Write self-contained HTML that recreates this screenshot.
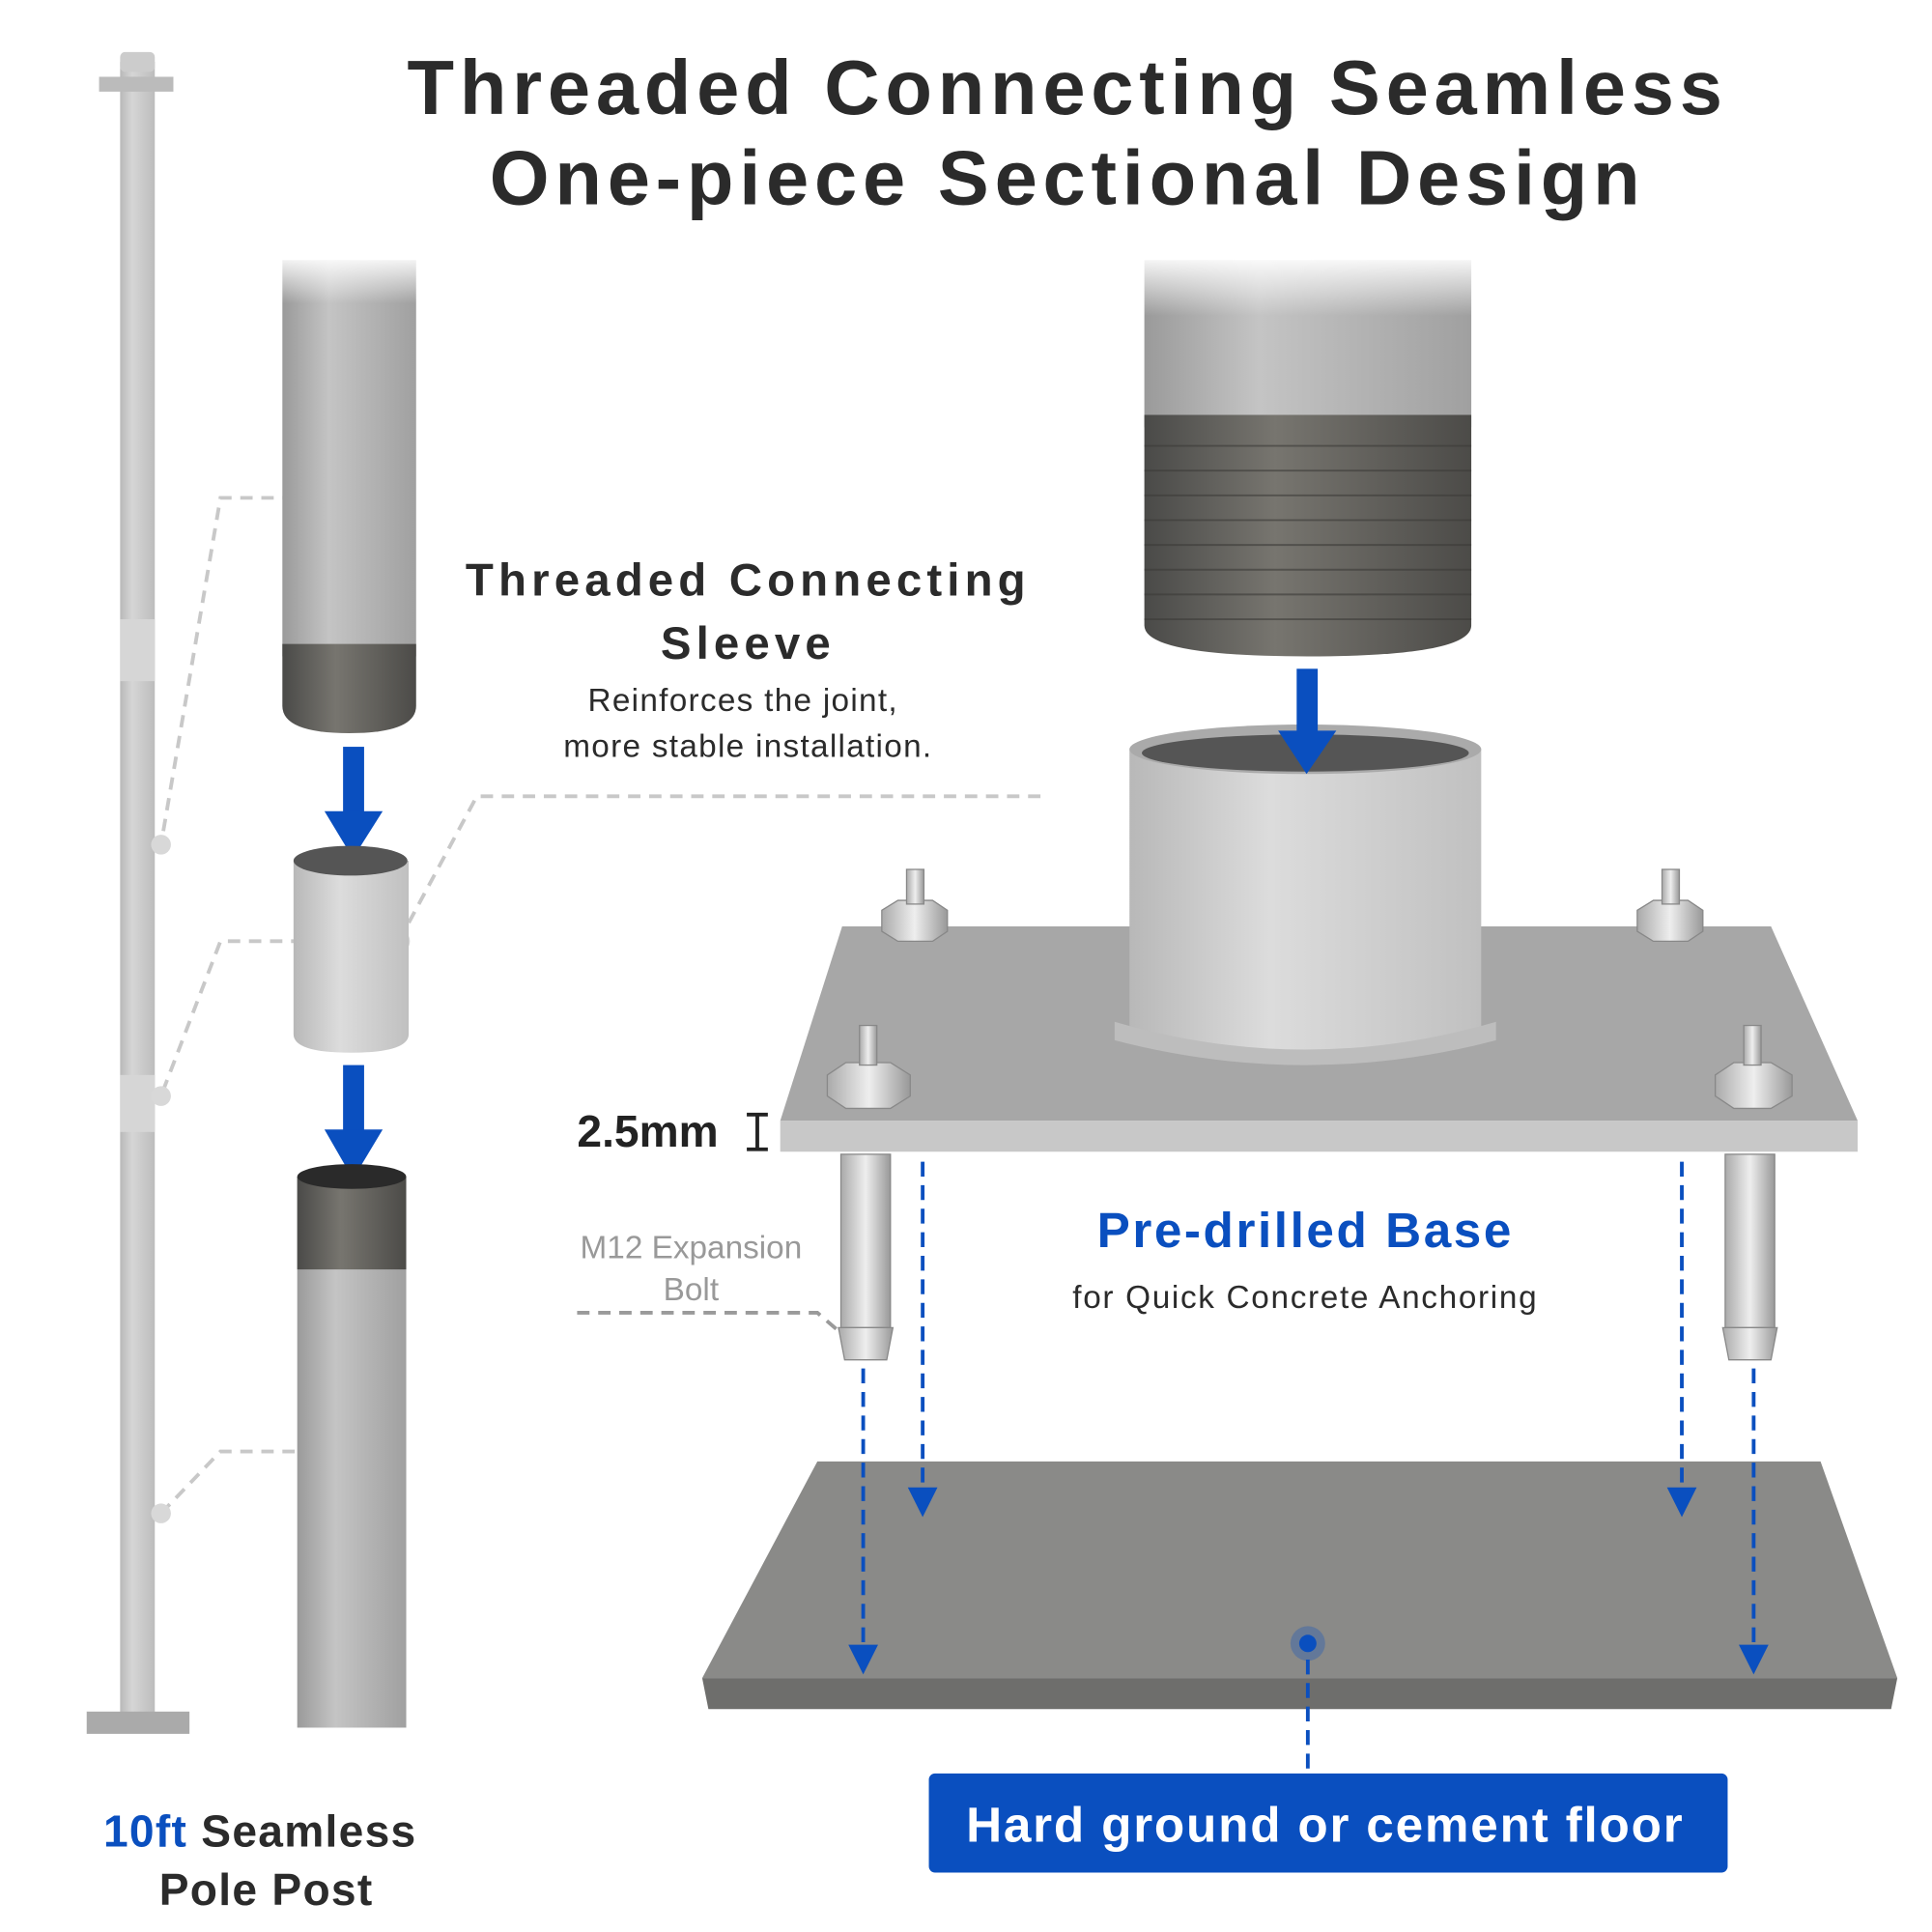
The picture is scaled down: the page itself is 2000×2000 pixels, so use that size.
<!DOCTYPE html>
<html><head><meta charset="utf-8"><style>
html,body{margin:0;padding:0;background:#fff}
svg{display:block}
text{font-family:"Liberation Sans",sans-serif}
</style></head><body>
<svg width="2000" height="2000" viewBox="0 0 1560 1560" xmlns="http://www.w3.org/2000/svg">
<defs>
<linearGradient id="pg" x1="0" x2="1"><stop offset="0" stop-color="#9a9a9a"/><stop offset=".35" stop-color="#c4c4c4"/><stop offset="1" stop-color="#a0a0a0"/></linearGradient>
<linearGradient id="tg" x1="0" x2="1"><stop offset="0" stop-color="#4a4a48"/><stop offset=".4" stop-color="#77756f"/><stop offset="1" stop-color="#4c4b48"/></linearGradient>
<linearGradient id="sg" x1="0" x2="1"><stop offset="0" stop-color="#b8b8b8"/><stop offset=".4" stop-color="#dcdcdc"/><stop offset="1" stop-color="#c0c0c0"/></linearGradient>
<linearGradient id="bg" x1="0" x2="1"><stop offset="0" stop-color="#aaa"/><stop offset=".5" stop-color="#eee"/><stop offset="1" stop-color="#999"/></linearGradient>
<linearGradient id="fade" x1="0" y1="0" x2="0" y2="1"><stop offset="0" stop-color="#fff" stop-opacity="1"/><stop offset="1" stop-color="#fff" stop-opacity="0"/></linearGradient>
<marker id="ah" markerWidth="8" markerHeight="8" refX="4" refY="4" orient="auto"><path d="M0,0L8,4L0,8z" fill="#0a4fbf"/></marker>
</defs>

<text x="862" y="92" text-anchor="middle" font-size="62" font-weight="bold" fill="#2b2b2b" letter-spacing="4.5">Threaded Connecting Seamless</text>
<text x="862" y="165" text-anchor="middle" font-size="62" font-weight="bold" fill="#2b2b2b" letter-spacing="4.5">One-piece Sectional Design</text>

<rect x="97" y="50" width="28" height="1335" fill="url(#pg)" opacity=".7"/>
<rect x="97" y="42" width="28" height="16" rx="4" fill="#ccc"/>
<rect x="80" y="62" width="60" height="12" fill="#bbb"/>
<rect x="97" y="500" width="28" height="50" fill="#d6d6d6"/>
<rect x="97" y="868" width="28" height="46" fill="#d6d6d6"/>
<rect x="70" y="1382" width="83" height="18" fill="#aaa"/>

<g stroke="#c8c8c8" stroke-width="3" stroke-dasharray="10,7" fill="none">
<path d="M255,402H178L130,682"/>
<path d="M245,760H178L130,885"/>
<path d="M255,1172H178L130,1222"/>
<path d="M322,760L385,643H845"/>
<path d="M466,1060H660L695,1090" stroke="#9a9a9a"/>
</g>
<g fill="#d8d8d8"><circle cx="130" cy="682" r="8"/><circle cx="130" cy="885" r="8"/><circle cx="130" cy="1222" r="8"/><circle cx="322" cy="760" r="9"/></g>

<rect x="228" y="210" width="108" height="320" fill="url(#pg)"/>
<path d="M228,520H336V570Q336,592 282,592Q228,592 228,570Z" fill="url(#tg)"/>
<rect x="225" y="205" width="120" height="40" fill="url(#fade)"/>
<g fill="#0a4fbf">
<rect x="277" y="603" width="17" height="55"/><path d="M262,655H309L285,693Z"/>
<rect x="277" y="860" width="17" height="55"/><path d="M262,912H309L285,952Z"/>
<rect x="1047" y="540" width="17" height="50"/><path d="M1032,587H1079L1055,625Z"/>
</g>
<path d="M237,695H330V835Q330,850 283,850Q237,850 237,835Z" fill="url(#sg)"/>
<ellipse cx="283" cy="695" rx="46" ry="12" fill="#555"/>
<rect x="240" y="950" width="88" height="445" fill="url(#pg)"/>
<rect x="240" y="950" width="88" height="75" fill="url(#tg)"/>
<ellipse cx="284" cy="950" rx="44" ry="10" fill="#2a2a2a"/>

<text x="604" y="481" text-anchor="middle" font-size="37" font-weight="bold" fill="#2b2b2b" letter-spacing="4">Threaded Connecting</text>
<text x="604" y="532" text-anchor="middle" font-size="37" font-weight="bold" fill="#2b2b2b" letter-spacing="4">Sleeve</text>
<text x="600" y="574" text-anchor="middle" font-size="26" fill="#2b2b2b" letter-spacing="1">Reinforces the joint,</text>
<text x="604" y="611" text-anchor="middle" font-size="26" fill="#2b2b2b" letter-spacing="1">more stable installation.</text>

<rect x="924" y="210" width="264" height="135" fill="url(#pg)"/>
<path d="M924,335H1188V505Q1188,530 1056,530Q924,530 924,505Z" fill="url(#tg)"/>
<g stroke="#3c3b38" stroke-width="1.5" opacity=".6">
<path d="M924,360H1188M924,380H1188M924,400H1188M924,420H1188M924,440H1188M924,460H1188M924,480H1188M924,500H1188"/></g>
<rect x="920" y="205" width="272" height="50" fill="url(#fade)"/>

<path d="M630,905L680,748H1430L1500,905Z" fill="#a7a7a7"/>
<path d="M630,905H1500V930H630Z" fill="#c8c8c8"/>
<path d="M912,605H1196V830Q1196,855 1054,855Q912,855 912,830Z" fill="url(#sg)"/>
<path d="M900,825Q1054,870 1208,825L1208,840Q1054,880 900,840Z" fill="#bdbdbd"/>
<ellipse cx="1054" cy="605" rx="142" ry="20" fill="#aaa"/>
<ellipse cx="1054" cy="608" rx="132" ry="15" fill="#555"/>
<g fill="#0a4fbf"><rect x="1047" y="585" width="17" height="12"/><path d="M1032,590H1079L1055,625Z"/></g>

<g fill="url(#bg)" stroke="#888">
<path d="M712,735L725,727H753L765,735V752L753,760H725L712,752Z"/><rect x="732" y="702" width="14" height="28"/>
<path d="M1322,735L1335,727H1363L1375,735V752L1363,760H1335L1322,752Z"/><rect x="1342" y="702" width="14" height="28"/>
<path d="M668,868L683,858H719L735,868V885L719,895H683L668,885Z"/><rect x="694" y="828" width="14" height="32"/>
<path d="M1385,868L1400,858H1430L1447,868V885L1430,895H1400L1385,885Z"/><rect x="1408" y="828" width="14" height="32"/>
<rect x="679" y="932" width="40" height="140"/><path d="M677,1072H721L716,1098H682Z"/>
<rect x="1393" y="932" width="40" height="140"/><path d="M1391,1072H1435L1430,1098H1396Z"/>
</g>
<path d="M603,900H620M603,928H620M611.5,900V928" stroke="#222" stroke-width="3"/>
<text x="466" y="926" font-size="36" font-weight="bold" fill="#222">2.5mm</text>

<text x="1054" y="1007" text-anchor="middle" font-size="40" font-weight="bold" fill="#0a4fbf" letter-spacing="2">Pre-drilled Base</text>
<text x="1054" y="1056" text-anchor="middle" font-size="26" fill="#2b2b2b" letter-spacing="1.3">for Quick Concrete Anchoring</text>
<text x="558" y="1016" text-anchor="middle" font-size="26" fill="#999">M12 Expansion</text>
<text x="558" y="1050" text-anchor="middle" font-size="26" fill="#999">Bolt</text>

<path d="M567,1355L660,1180H1470L1532,1355Z" fill="#8a8a88"/>
<path d="M567,1355H1532L1527,1380H572Z" fill="#6e6e6c"/>

<g stroke="#0a4fbf" stroke-width="3" stroke-dasharray="12,7" fill="none" marker-end="url(#ah)">
<path d="M697,1105V1340"/><path d="M745,938V1213"/><path d="M1358,938V1213"/><path d="M1416,1105V1340"/>
</g>
<path d="M1056,1340V1428" stroke="#0a4fbf" stroke-width="3" stroke-dasharray="12,7" fill="none"/>
<circle cx="1056" cy="1327" r="14" fill="#0a4fbf" opacity=".3"/>
<circle cx="1056" cy="1327" r="7" fill="#0a4fbf"/>

<rect x="750" y="1432" width="645" height="80" rx="5" fill="#0a4fbf"/>
<text x="1070" y="1487" text-anchor="middle" font-size="40" font-weight="bold" fill="#fff" letter-spacing="1.4">Hard ground or cement floor</text>

<text x="210" y="1491" text-anchor="middle" font-size="36" font-weight="bold" fill="#2b2b2b" letter-spacing="1"><tspan fill="#0a4fbf">10ft</tspan> Seamless</text>
<text x="215" y="1538" text-anchor="middle" font-size="36" font-weight="bold" fill="#2b2b2b" letter-spacing="1">Pole Post</text>
</svg>
</body></html>
